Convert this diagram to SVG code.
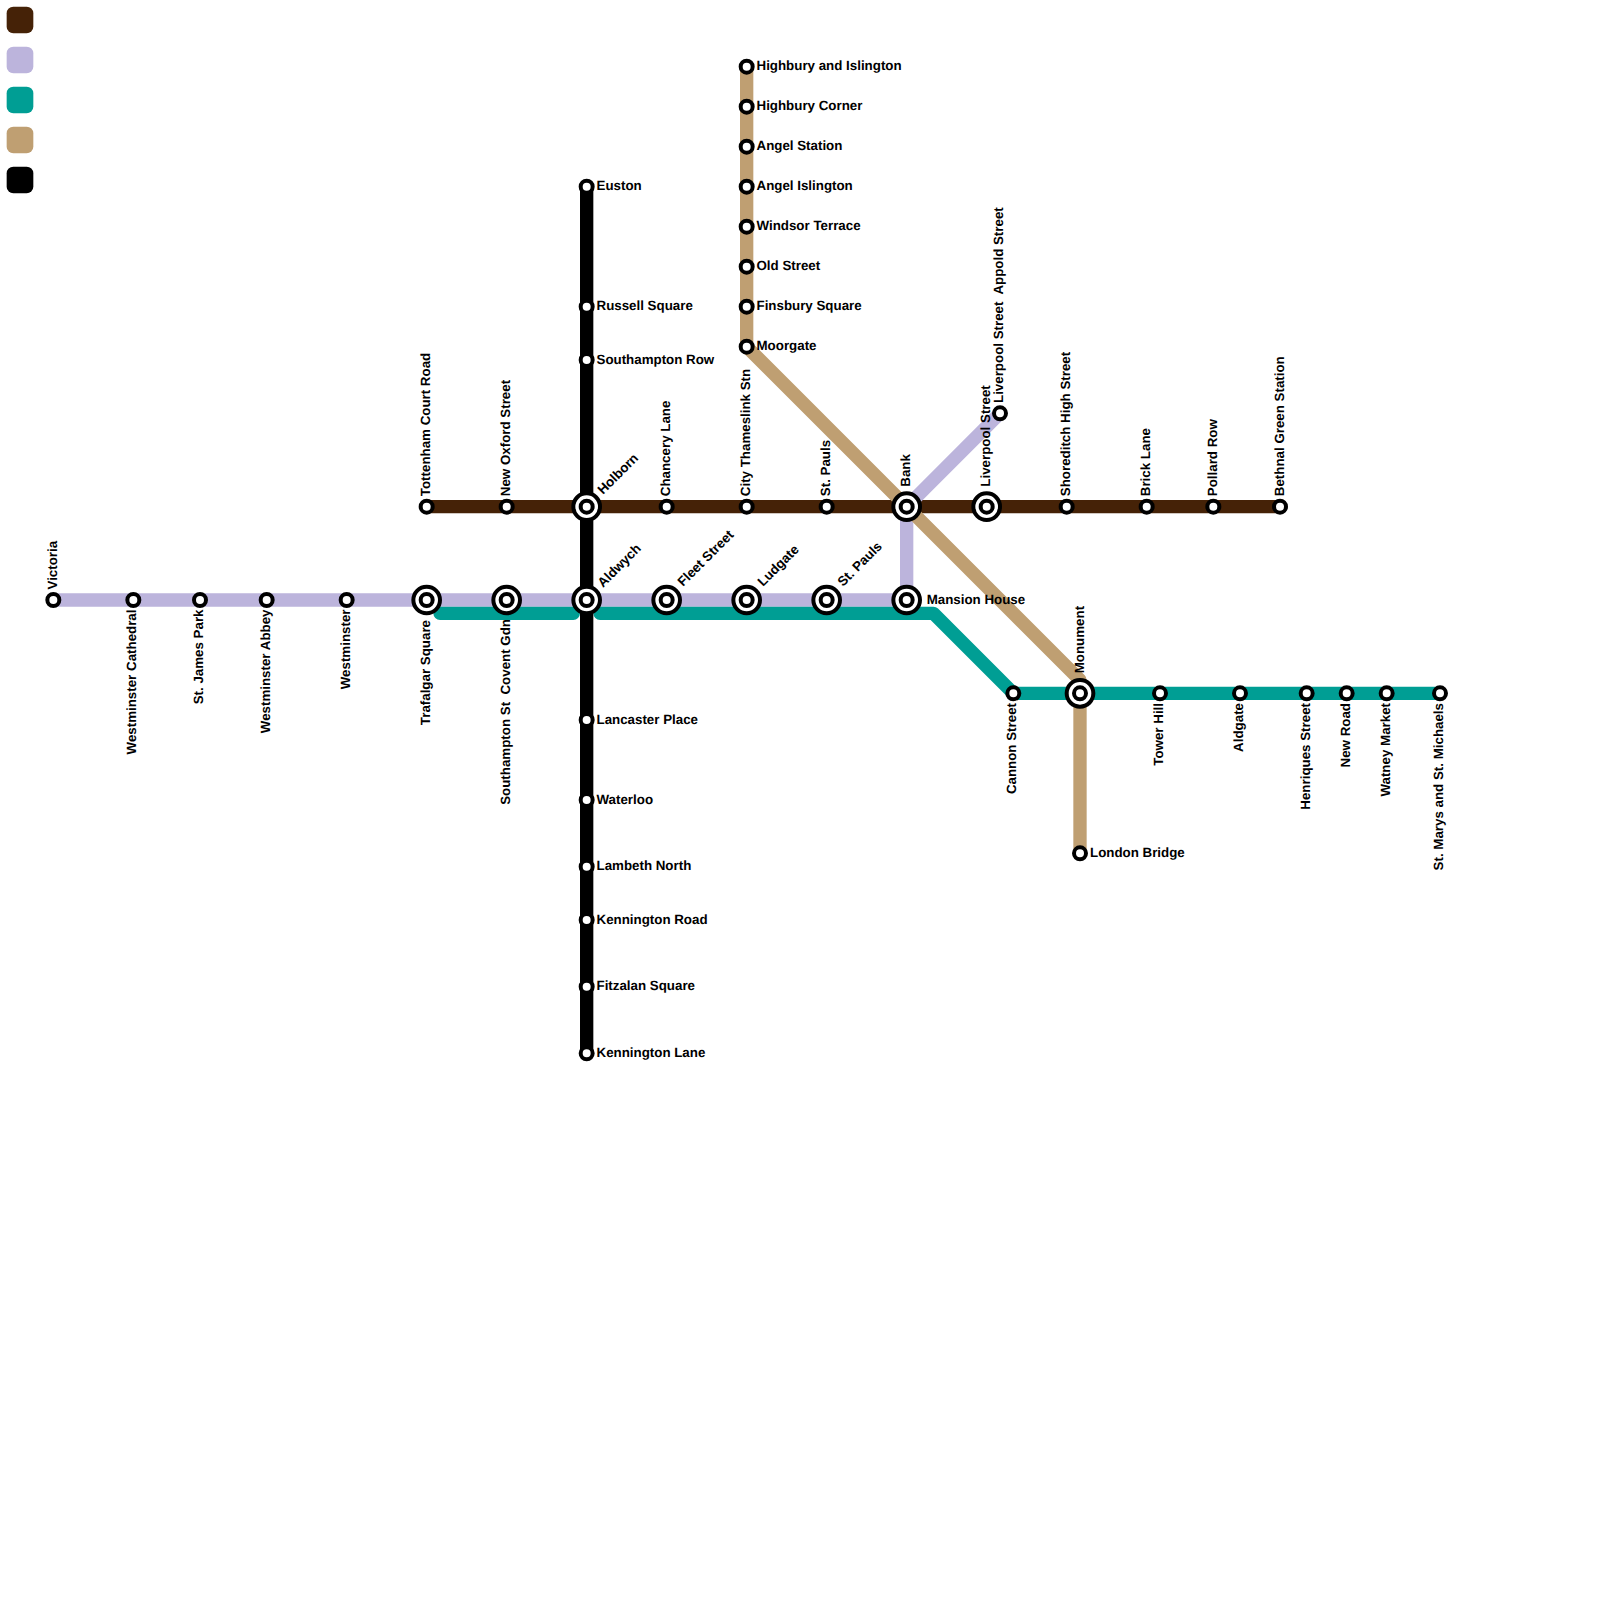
<svg xmlns="http://www.w3.org/2000/svg" width="1600" height="1600" viewBox="0 0 1600 1600">
<style>
text{font-family:"Liberation Sans",Arial,sans-serif;font-size:13.33px;font-weight:bold;fill:#000;white-space:pre;text-rendering:geometricPrecision}
.l{fill:none;stroke-width:13.33;stroke-linecap:round;stroke-linejoin:round}
.leg{stroke-width:13.33;stroke-linejoin:round}
.brown{stroke:#452207}.lav{stroke:#bcb4dc}.teal{stroke:#009e94}.tan{stroke:#bf9f72}.blk{stroke:#000}
.o{fill:#fff;stroke:#000;stroke-width:4}
.up{text-anchor:start}.dn{text-anchor:end}
</style>
<defs>
<circle id="s" r="6" class="o"/>
<g id="x"><circle r="13.33" class="o"/><circle r="6" class="o"/></g>
</defs>
<g id="legend">
<rect class="leg brown" x="13.33" y="13.33" width="13.33" height="13.33" fill="#452207"/>
<rect class="leg lav" x="13.33" y="53.33" width="13.33" height="13.33" fill="#bcb4dc"/>
<rect class="leg teal" x="13.33" y="93.33" width="13.33" height="13.33" fill="#009e94"/>
<rect class="leg tan" x="13.33" y="133.33" width="13.33" height="13.33" fill="#bf9f72"/>
<rect class="leg blk" x="13.33" y="173.33" width="13.33" height="13.33" fill="#000"/>
</g>
<g id="connectors">
<path class="l brown" d="M426.67 506.67H1280"/>
<path class="l lav" d="M53.33 600H906.67V506.67L1000 413.33"/>
<path class="l teal" d="M440 613.33H573.33M600 613.33H933.33L1013.33 693.33H1440"/>
<path class="l tan" d="M746.67 66.67V346.67L1080 680V853.33"/>
<path class="l blk" d="M586.67 186.67V1053.33"/>
</g>
<g id="nodes">
<g id="n-victoria"><use href="#s" x="53.33" y="600"/><text class="up" transform="translate(57 589.5) rotate(-90)">Victoria</text></g>
<g id="n-westminster-cathedral"><use href="#s" x="133.33" y="600"/><text class="dn" transform="translate(136.3 609.5) rotate(-90)">Westminster Cathedral</text></g>
<g id="n-st-james-park"><use href="#s" x="200" y="600"/><text class="dn" transform="translate(203 609.5) rotate(-90)">St. James Park</text></g>
<g id="n-westminster-abbey"><use href="#s" x="266.67" y="600"/><text class="dn" transform="translate(269.7 609.5) rotate(-90)">Westminster Abbey</text></g>
<g id="n-westminster"><use href="#s" x="346.67" y="600"/><text class="dn" transform="translate(349.7 609.5) rotate(-90)">Westminster</text></g>
<g id="n-trafalgar-square"><use href="#x" x="426.67" y="600"/><text class="dn" transform="translate(430.2 620) rotate(-90)">Trafalgar Square</text></g>
<g id="n-southampton-st"><use href="#x" x="506.67" y="600"/><text class="dn" transform="translate(510.2 619) rotate(-90)" xml:space="preserve">Southampton St  Covent Gdn</text></g>
<g id="n-aldwych"><use href="#x" x="586.67" y="600"/><text transform="translate(603 588) rotate(-45)">Aldwych</text></g>
<g id="n-fleet-street"><use href="#x" x="666.67" y="600"/><text transform="translate(683 587) rotate(-45)">Fleet Street</text></g>
<g id="n-ludgate"><use href="#x" x="746.67" y="600"/><text transform="translate(763 587) rotate(-45)">Ludgate</text></g>
<g id="n-st-pauls-lav"><use href="#x" x="826.67" y="600"/><text transform="translate(843 587) rotate(-45)">St. Pauls</text></g>
<g id="n-mansion-house"><use href="#x" x="906.67" y="600"/><text x="926.67" y="603.5">Mansion House</text></g>
<g id="n-tottenham"><use href="#s" x="426.67" y="506.67"/><text class="up" transform="translate(430.2 496.2) rotate(-90)">Tottenham Court Road</text></g>
<g id="n-new-oxford"><use href="#s" x="506.67" y="506.67"/><text class="up" transform="translate(510.2 496.2) rotate(-90)">New Oxford Street</text></g>
<g id="n-holborn"><use href="#x" x="586.67" y="506.67"/><text transform="translate(603 495) rotate(-45)">Holborn</text></g>
<g id="n-chancery"><use href="#s" x="666.67" y="506.67"/><text class="up" transform="translate(670.2 496.2) rotate(-90)">Chancery Lane</text></g>
<g id="n-city-thameslink"><use href="#s" x="746.67" y="506.67"/><text class="up" transform="translate(750.2 496.2) rotate(-90)">City Thameslink Stn</text></g>
<g id="n-st-pauls"><use href="#s" x="826.67" y="506.67"/><text class="up" transform="translate(830.2 496.2) rotate(-90)">St. Pauls</text></g>
<g id="n-bank"><use href="#x" x="906.67" y="506.67"/><text class="up" transform="translate(910.2 486.7) rotate(-90)">Bank</text></g>
<g id="n-liverpool-street"><use href="#x" x="986.67" y="506.67"/><text class="up" transform="translate(990.2 486.7) rotate(-90)">Liverpool Street</text></g>
<g id="n-liverpool-appold"><use href="#s" x="1000" y="413.33"/><text class="up" transform="translate(1003 403) rotate(-90)" xml:space="preserve">Liverpool Street  Appold Street</text></g>
<g id="n-shoreditch"><use href="#s" x="1066.67" y="506.67"/><text class="up" transform="translate(1070.2 496.2) rotate(-90)">Shoreditch High Street</text></g>
<g id="n-brick-lane"><use href="#s" x="1146.67" y="506.67"/><text class="up" transform="translate(1150.2 496.2) rotate(-90)">Brick Lane</text></g>
<g id="n-pollard-row"><use href="#s" x="1213.33" y="506.67"/><text class="up" transform="translate(1216.9 496.2) rotate(-90)">Pollard Row</text></g>
<g id="n-bethnal-green"><use href="#s" x="1280" y="506.67"/><text class="up" transform="translate(1283.5 496.2) rotate(-90)">Bethnal Green Station</text></g>
<g id="n-euston"><use href="#s" x="586.67" y="186.67"/><text x="596.5" y="190">Euston</text></g>
<g id="n-russell-square"><use href="#s" x="586.67" y="306.67"/><text x="596.5" y="310">Russell Square</text></g>
<g id="n-southampton-row"><use href="#s" x="586.67" y="360"/><text x="596.5" y="363.5">Southampton Row</text></g>
<g id="n-lancaster-place"><use href="#s" x="586.67" y="720"/><text x="596.5" y="723.5">Lancaster Place</text></g>
<g id="n-waterloo"><use href="#s" x="586.67" y="800"/><text x="596.5" y="803.5">Waterloo</text></g>
<g id="n-lambeth-north"><use href="#s" x="586.67" y="866.67"/><text x="596.5" y="870">Lambeth North</text></g>
<g id="n-kennington-road"><use href="#s" x="586.67" y="920"/><text x="596.5" y="923.5">Kennington Road</text></g>
<g id="n-fitzalan-square"><use href="#s" x="586.67" y="986.67"/><text x="596.5" y="990">Fitzalan Square</text></g>
<g id="n-kennington-lane"><use href="#s" x="586.67" y="1053.33"/><text x="596.5" y="1057">Kennington Lane</text></g>
<g id="n-highbury-islington"><use href="#s" x="746.67" y="66.67"/><text x="756.5" y="70">Highbury and Islington</text></g>
<g id="n-highbury-corner"><use href="#s" x="746.67" y="106.67"/><text x="756.5" y="110">Highbury Corner</text></g>
<g id="n-angel-station"><use href="#s" x="746.67" y="146.67"/><text x="756.5" y="150">Angel Station</text></g>
<g id="n-angel-islington"><use href="#s" x="746.67" y="186.67"/><text x="756.5" y="190">Angel Islington</text></g>
<g id="n-windsor-terrace"><use href="#s" x="746.67" y="226.67"/><text x="756.5" y="230">Windsor Terrace</text></g>
<g id="n-old-street"><use href="#s" x="746.67" y="266.67"/><text x="756.5" y="270">Old Street</text></g>
<g id="n-finsbury-square"><use href="#s" x="746.67" y="306.67"/><text x="756.5" y="310">Finsbury Square</text></g>
<g id="n-moorgate"><use href="#s" x="746.67" y="346.67"/><text x="756.5" y="350">Moorgate</text></g>
<g id="n-london-bridge"><use href="#s" x="1080" y="853.33"/><text x="1090" y="857">London Bridge</text></g>
<g id="n-cannon-street"><use href="#s" x="1013.33" y="693.33"/><text class="dn" transform="translate(1016.4 703) rotate(-90)">Cannon Street</text></g>
<g id="n-monument"><use href="#x" x="1080" y="693.33"/><text class="up" transform="translate(1083.5 673.3) rotate(-90)">Monument</text></g>
<g id="n-tower-hill"><use href="#s" x="1160" y="693.33"/><text class="dn" transform="translate(1163 703) rotate(-90)">Tower Hill</text></g>
<g id="n-aldgate"><use href="#s" x="1240" y="693.33"/><text class="dn" transform="translate(1243 703) rotate(-90)">Aldgate</text></g>
<g id="n-henriques"><use href="#s" x="1306.67" y="693.33"/><text class="dn" transform="translate(1309.7 703) rotate(-90)">Henriques Street</text></g>
<g id="n-new-road"><use href="#s" x="1346.67" y="693.33"/><text class="dn" transform="translate(1349.7 703) rotate(-90)">New Road</text></g>
<g id="n-watney"><use href="#s" x="1386.67" y="693.33"/><text class="dn" transform="translate(1389.7 703) rotate(-90)">Watney Market</text></g>
<g id="n-st-marys"><use href="#s" x="1440" y="693.33"/><text class="dn" transform="translate(1443 703) rotate(-90)">St. Marys and St. Michaels</text></g>
</g>
</svg>
